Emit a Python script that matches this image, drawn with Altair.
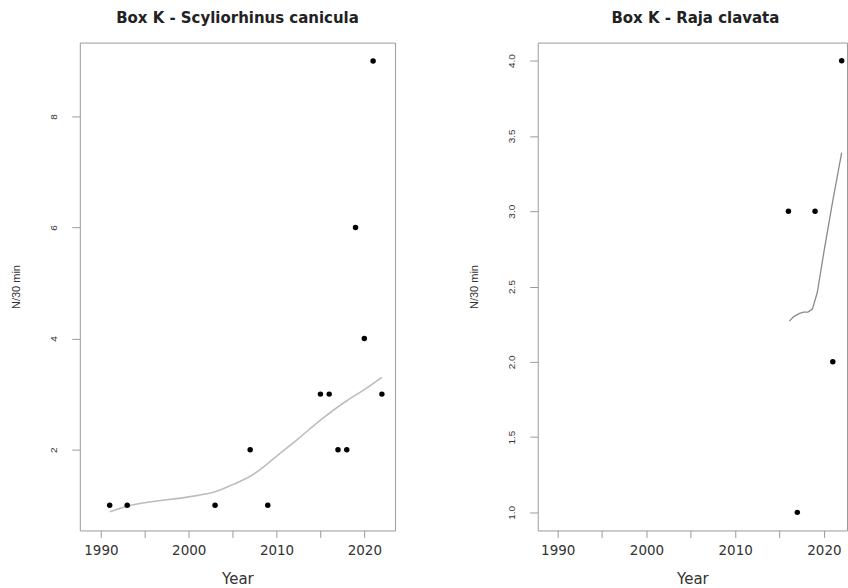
import altair as alt
import pandas as pd

# Box K - Scyliorhinus canicula
sc_year = [1991, 1993, 2003, 2007, 2009, 2015, 2016, 2017, 2018, 2019, 2020, 2021, 2022]
sc_n = [1, 1, 1, 2, 1, 3, 3, 2, 2, 6, 4, 9, 3]
sc_fit_year = [1991, 1993, 2000, 2003, 2005, 2007, 2009, 2010, 2012.5, 2015, 2018, 2020, 2022]
sc_fit = [0.88, 0.98, 1.15, 1.24, 1.37, 1.52, 1.75, 1.88, 2.20, 2.53, 2.88, 3.08, 3.30]

# Box K - Raja clavata
rc_year = [2016, 2017, 2019, 2021, 2022]
rc_n = [3, 1, 3, 2, 4]
rc_fit_year = [2016.1, 2016.6, 2017.2, 2017.7, 2018.2, 2018.7, 2019.25, 2020, 2021, 2022]
rc_fit = [2.27, 2.30, 2.32, 2.33, 2.33, 2.35, 2.46, 2.73, 3.07, 3.39]

x_ticks = [1990, 1995, 2000, 2005, 2010, 2015, 2020]
sc_y_ticks = [2, 4, 6, 8]
rc_y_ticks = [1.0, 1.5, 2.0, 2.5, 3.0, 3.5, 4.0]

sc_pts = pd.DataFrame({"Year": sc_year, "N": sc_n})
sc_line = pd.DataFrame({"Year": sc_fit_year, "N": sc_fit})
rc_pts = pd.DataFrame({"Year": rc_year, "N": rc_n})
rc_line = pd.DataFrame({"Year": rc_fit_year, "N": rc_fit})

AX = "#9a9a9a"
TXT = "#333333"
H = 489


def x_axis():
    return alt.Axis(
        values=x_ticks,
        labelExpr="datum.value % 10 == 0 ? toString(datum.value) : ''",
        tickSize=7, tickColor=AX, domain=False,
        labelFont="DejaVu Sans", labelFontSize=13.5, labelColor=TXT, labelPadding=6,
        labelFlush=False, labelOverlap=False,
        title="Year", titleFont="DejaVu Sans", titleFontSize=15, titleFontWeight="normal",
        titleColor=TXT, titlePadding=15, grid=False,
    )


def y_axis(vals, fmt):
    return alt.Axis(
        values=vals, format=fmt,
        labelAngle=270, labelAlign="center", labelBaseline="bottom",
        labelFont="Liberation Sans", labelFontSize=10, labelColor=TXT, labelPadding=13,
        tickSize=8, tickColor=AX, domain=False,
        title="N/30 min", titleFont="Liberation Sans", titleFontSize=11,
        titleFontWeight="normal", titleColor=TXT, titleAngle=270,
        titleX=-63, titleY=H / 2, titleAlign="center", titleBaseline="middle",
        grid=False, labelFlush=False, labelOverlap=False,
    )


def ttl(text, dx=0):
    return alt.TitleParams(text, font="DejaVu Sans", fontSize=15, fontWeight="bold",
                           color="#222222", anchor="middle", offset=17, dx=dx)


# Left panel
sx = alt.Scale(domain=[1987.6, 2023.5], nice=False, zero=False)
sy = alt.Scale(domain=[0.545, 9.33], nice=False, zero=False)
left_pts = alt.Chart(sc_pts).mark_circle(size=30, color="black", opacity=1).encode(
    x=alt.X("Year:Q", scale=sx, axis=x_axis()),
    y=alt.Y("N:Q", scale=sy, axis=y_axis(sc_y_ticks, "d")),
)
left_ln = alt.Chart(sc_line).mark_line(color="#bdbdbd", strokeWidth=1.6, interpolate="monotone").encode(
    x=alt.X("Year:Q", scale=sx), y=alt.Y("N:Q", scale=sy)
)
left = alt.layer(left_ln, left_pts).properties(
    width=316, height=H, title=ttl("Box K - Scyliorhinus canicula"),
)

# Right panel
rx = alt.Scale(domain=[1987.75, 2022.6], nice=False, zero=False)
ry = alt.Scale(domain=[0.88, 4.12], nice=False, zero=False)
right_pts = alt.Chart(rc_pts).mark_circle(size=30, color="black", opacity=1).encode(
    x=alt.X("Year:Q", scale=rx, axis=x_axis()),
    y=alt.Y("N:Q", scale=ry, axis=y_axis(rc_y_ticks, ".1f")),
)
right_ln = alt.Chart(rc_line).mark_line(color="#8a8a8a", strokeWidth=1.3).encode(
    x=alt.X("Year:Q", scale=rx), y=alt.Y("N:Q", scale=ry)
)
right = alt.layer(right_ln, right_pts).properties(
    width=310, height=H, title=ttl("Box K - Raja clavata", dx=3),
)

chart = alt.hconcat(left, right, spacing=143, bounds="flush").properties(
    padding={"left": 10, "top": 9, "right": 0, "bottom": 0},
    background="white",
).configure_view(stroke=AX, strokeWidth=1)

chart.save("out.html", embed_options={"renderer": "svg", "actions": False})
